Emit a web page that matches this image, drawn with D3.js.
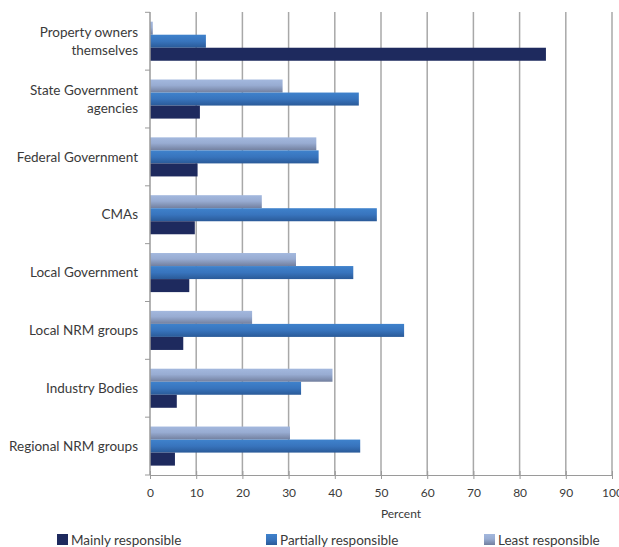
<!DOCTYPE html>
<html><head><meta charset="utf-8">
<script src="https://cdn.jsdelivr.net/npm/d3@7"></script>
<style>body{margin:0;background:#fff;} text{font-family:Lato,"Open Sans",sans-serif;fill:#3a3a3a;}</style>
</head><body>
<svg id="c" width="619" height="547"></svg>
<script>
const categories = [["Property owners","themselves"],["State Government","agencies"],["Federal Government"],["CMAs"],["Local Government"],["Local NRM groups"],["Industry Bodies"],["Regional NRM groups"]];
const seriesNames = ["Least responsible","Partially responsible","Mainly responsible"];
const mainly = [85.7, 10.8, 10.3, 9.7, 8.5, 7.2, 5.8, 5.4];
const partially = [12.1, 45.2, 36.5, 49.1, 44.0, 55.0, 32.7, 45.5];
const least = [0.6, 28.7, 36.0, 24.2, 31.6, 22.1, 39.5, 30.3];
const ticks = [0,10,20,30,40,50,60,70,80,90,100];

const svg = d3.select("#c");
const defs = svg.append("defs");
function grad(id, stops){
  const g = defs.append("linearGradient").attr("id",id).attr("x1",0).attr("y1",0).attr("x2",0).attr("y2",1);
  stops.forEach(s=>g.append("stop").attr("offset",s[0]).attr("stop-color",s[1]));
}
grad("gLeast",[[0,"#a3b8de"],[0.45,"#98acd2"],[1,"#727f9e"]]);
grad("gPart",[[0,"#3f82cc"],[0.5,"#3874bd"],[1,"#2a5a98"]]);
grad("gMain",[[0,"#1e2a5e"],[1,"#1e2a5e"]]);
const fills = {"Least responsible":"url(#gLeast)","Partially responsible":"url(#gPart)","Mainly responsible":"url(#gMain)"};
const legendFills = {"Mainly responsible":"#1e2a5e","Partially responsible":"url(#gPart)","Least responsible":"url(#gLeast)"};
const values = {"Least responsible":least,"Partially responsible":partially,"Mainly responsible":mainly};

const x = d3.scaleLinear().domain([0,100]).range([150,612]);
const y = d3.scaleBand().domain(d3.range(categories.length)).range([12.3,475]).paddingInner(0).paddingOuter(0);
const inner = d3.scaleBand().domain(seriesNames).range([0,y.bandwidth()]).paddingInner(0).paddingOuter(0.72);

// gridlines
svg.append("g").selectAll("line").data(ticks.slice(1)).join("line")
  .attr("x1",d=>x(d)).attr("x2",d=>x(d)).attr("y1",12).attr("y2",475)
  .attr("stroke","#a8a8a8").attr("stroke-width",1.5);

// bars
categories.forEach((c,i)=>{
  seriesNames.forEach(s=>{
    svg.append("rect").attr("x",x(0)).attr("y",y(i)+inner(s))
      .attr("width",x(values[s][i])-x(0)).attr("height",inner.bandwidth())
      .attr("fill",fills[s]);
  });
});

// left axis
svg.append("line").attr("x1",150).attr("x2",150).attr("y1",12).attr("y2",475).attr("stroke","#9a9a9a").attr("stroke-width",1.5);
svg.append("g").selectAll("line").data(d3.range(categories.length+1)).join("line")
  .attr("x1",145).attr("x2",150).attr("y1",d=>12.3+d*y.bandwidth()).attr("y2",d=>12.3+d*y.bandwidth())
  .attr("stroke","#9a9a9a");

// category labels
categories.forEach((c,i)=>{
  const cy = y(i)+y.bandwidth()/2;
  const lh = 17.5;
  c.forEach((t,j)=>{
    svg.append("text").attr("x",138).attr("y",cy + (j-(c.length-1)/2)*lh).attr("dy","0.35em")
      .attr("text-anchor","end").attr("font-size",13.5).text(t);
  });
});

// bottom axis
const xa = svg.append("g").attr("transform","translate(0,475)").call(d3.axisBottom(x).tickValues(ticks).tickSize(5).tickSizeOuter(0).tickPadding(8));
xa.select(".domain").attr("stroke","#9a9a9a").attr("stroke-width",1.2);
xa.selectAll(".tick line").attr("stroke","#9a9a9a").attr("y1",-4).attr("y2",4);
xa.selectAll(".tick text").attr("font-size",12).attr("fill","#3a3a3a").style("font-family","Lato,'Open Sans',sans-serif");
svg.append("text").attr("x",401).attr("y",518).attr("text-anchor","middle").attr("font-size",12).text("Percent");

// legend
const legendItems = [["Mainly responsible",57],["Partially responsible",266],["Least responsible",484]];
legendItems.forEach(([n,lx])=>{
  svg.append("rect").attr("x",lx).attr("y",534).attr("width",11).attr("height",11).attr("fill",legendFills[n]);
  svg.append("text").attr("x",lx+14).attr("y",540).attr("dy","0.35em").attr("font-size",13.5).text(n);
});
</script>
</body></html>
